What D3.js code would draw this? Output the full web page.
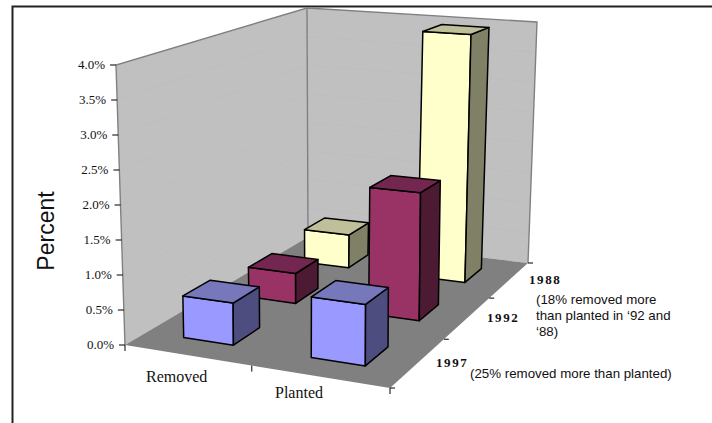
<!DOCTYPE html>
<html><head><meta charset="utf-8">
<style>html,body{margin:0;padding:0;background:#fff;overflow:hidden}svg{display:block}</style>
<script src="https://cdnjs.cloudflare.com/ajax/libs/d3/7.8.5/d3.min.js"></script>
</head><body><svg id="c" width="712" height="423"></svg>
<script>
// DATA
const categories = ["Removed", "Planted"];
const years = ["1997", "1992", "1988"]; // front to back
const removed = [0.60, 0.46, 0.54];
const planted = [0.84, 1.90, 3.96];
const valueTicks = [0, 0.5, 1, 1.5, 2, 2.5, 3, 3.5, 4];
const gridTicks = [0.5, 1, 1.5, 2, 2.5, 3, 3.5];
const yearColors = {
  "1997": { front: "#9999ff", side: "#4d4d80", top: "#7777bb" },
  "1992": { front: "#993366", side: "#4d1a33", top: "#732650" },
  "1988": { front: "#ffffcc", side: "#808066", top: "#bfbf99" }
};

// perspective frame: corners fl, fr, br, bl of floor and of the 4% plane
const floorQ = [[125, 345], [390, 388], [528, 263], [308, 237]];
const topQ = [[116, 65], [390, 83], [537, 22], [307, 8]];
function homography(q) {
  const [[x0, y0], [x1, y1], [x2, y2], [x3, y3]] = q;
  const dx1 = x1 - x2, dx2 = x3 - x2, dx3 = x0 - x1 + x2 - x3;
  const dy1 = y1 - y2, dy2 = y3 - y2, dy3 = y0 - y1 + y2 - y3;
  const den = dx1 * dy2 - dx2 * dy1;
  const g = (dx3 * dy2 - dx2 * dy3) / den, h = (dx1 * dy3 - dx3 * dy1) / den;
  const a = x1 - x0 + g * x1, b = x3 - x0 + h * x3, d = y1 - y0 + g * y1, e = y3 - y0 + h * y3;
  return (u, v) => {
    const w = g * u + h * v + 1;
    return [(a * u + b * v + x0) / w, (d * u + e * v + y0) / w];
  };
}
const hFloor = homography(floorQ), hTop = homography(topQ);

const xBand = d3.scaleBand().domain(categories).range([0, 1]).paddingInner(0.6).paddingOuter(0.3);
const zBand = d3.scaleBand().domain(years).range([0, 1]).paddingInner(0.6).paddingOuter(0.3);
const yScale = d3.scaleLinear().domain([0, 4]).range([0, 1]);
const fmt = d3.format(".1f");

function P(u, v, val) {
  const a = hFloor(u, v), b = hTop(u, v), t = yScale(val);
  return [a[0] + (b[0] - a[0]) * t, a[1] + (b[1] - a[1]) * t];
}
const svg = d3.select("#c");
const line = d3.line();
const closed = pts => line(pts) + "Z";

// outer frame
svg.append("path").attr("d", "M12.5,424V6.5H712").attr("fill", "none").attr("stroke", "#222").attr("stroke-width", 2);

// walls + floor
svg.append("path").attr("d", closed([P(0,0,0), P(0,0,4), P(0,1,4), P(0,1,0)])).attr("fill", "#c0c0c0");
svg.append("path").attr("d", closed([P(0,1,0), P(0,1,4), P(1,1,4), P(1,1,0)])).attr("fill", "#c0c0c0");
svg.append("path").attr("d", closed([P(0,0,0), P(1,0,0), P(1,1,0), P(0,1,0)])).attr("fill", "#808080");
svg.selectAll("path.grid").data(gridTicks).join("path").attr("class", "grid")
  .attr("d", d => line([P(0,0,d), P(0,1,d), P(1,1,d)]))
  .attr("fill", "none").attr("stroke", "#bcbcbc").attr("stroke-width", 0.6);
svg.append("path").attr("d", line([P(0,0,0), P(0,0,4), P(0,1,4), P(1,1,4), P(1,1,0)]))
  .attr("fill", "none").attr("stroke", "#808080").attr("stroke-width", 1.4);
svg.append("path").attr("d", line([P(0,1,4), P(0,1,0)])).attr("fill", "none").attr("stroke", "#808080").attr("stroke-width", 1.4);

// value axis
const vt = svg.append("g");
vt.selectAll("path").data(valueTicks).join("path")
  .attr("d", d => { const p = P(0,0,d); return `M${p[0]},${p[1]}h-6`; })
  .attr("stroke", "#000").attr("stroke-width", 1);
vt.selectAll("text").data(valueTicks).join("text")
  .attr("x", d => P(0,0,d)[0] - 11).attr("y", d => P(0,0,d)[1] + 4)
  .attr("text-anchor", "end").attr("font-family", "Liberation Serif").attr("font-size", 13).attr("fill", "#111")
  .text(d => fmt(d) + "%");

// category ticks and depth ticks
const catEdges = [0, 0.5, 1];
svg.append("g").selectAll("path").data(catEdges).join("path")
  .attr("d", d => { const p = P(d,0,0); return `M${p[0]},${p[1]}v6`; }).attr("stroke", "#000");
const zEdges = [0, 1/3, 2/3, 1];
svg.append("g").selectAll("path").data(zEdges).join("path")
  .attr("d", d => { const p = P(1,d,0); return `M${p[0]},${p[1]}h5`; }).attr("stroke", "#000");

// bars, back to front
const rows = [];
years.forEach((y, i) => {
  rows.push({ cat: categories[0], year: y, value: removed[i] });
  rows.push({ cat: categories[1], year: y, value: planted[i] });
});
rows.sort((a, b) => d3.descending(years.indexOf(a.year), years.indexOf(b.year)) || d3.ascending(categories.indexOf(a.cat), categories.indexOf(b.cat)));
const bars = svg.append("g").selectAll("g").data(rows).join("g")
  .attr("stroke", "#000").attr("stroke-width", 1.5).attr("stroke-linejoin", "round");
const geo = d => ({
  u0: xBand(d.cat), u1: xBand(d.cat) + xBand.bandwidth(),
  v0: zBand(d.year), v1: zBand(d.year) + zBand.bandwidth(), h: d.value
});
bars.append("path").attr("fill", d => yearColors[d.year].front).attr("d", d => { const g = geo(d);
  return closed([P(g.u0,g.v0,0), P(g.u1,g.v0,0), P(g.u1,g.v0,g.h), P(g.u0,g.v0,g.h)]); });
bars.append("path").attr("fill", d => yearColors[d.year].side).attr("d", d => { const g = geo(d);
  return closed([P(g.u1,g.v0,0), P(g.u1,g.v1,0), P(g.u1,g.v1,g.h), P(g.u1,g.v0,g.h)]); });
bars.append("path").attr("fill", d => yearColors[d.year].top).attr("d", d => { const g = geo(d);
  return closed([P(g.u0,g.v0,g.h), P(g.u1,g.v0,g.h), P(g.u1,g.v1,g.h), P(g.u0,g.v1,g.h)]); });

// text
const txt = (s, x, y, fam, size, opts = {}) => {
  const t = svg.append("text").attr("x", x).attr("y", y).attr("font-family", fam).attr("font-size", size).attr("fill", "#111").text(s);
  Object.entries(opts).forEach(([k, v]) => t.attr(k, v));
  return t;
};
const serif = "Liberation Serif", sans = "Liberation Sans";
svg.append("text").attr("transform", "translate(53.5,231) rotate(-90)").attr("text-anchor", "middle")
  .attr("font-family", sans).attr("font-size", 23).attr("fill", "#111").text("Percent");
txt(categories[0], 146, 382, serif, 16);
txt(categories[1], 275, 398, serif, 16);
const bold = { "font-weight": "bold", "letter-spacing": "1.6px" };
txt(years[2], 529, 284, serif, 13, bold);
txt(years[1], 487, 322, serif, 13, bold);
txt(years[0], 436, 367, serif, 13, bold);
txt("(18% removed more", 536, 304, sans, 13.3);
txt("than planted in ‘92 and", 536, 320, sans, 13.3);
txt("‘88)", 536, 336, sans, 13.3);
txt("(25% removed more than planted)", 470, 378, sans, 13.3);
</script></body></html>
